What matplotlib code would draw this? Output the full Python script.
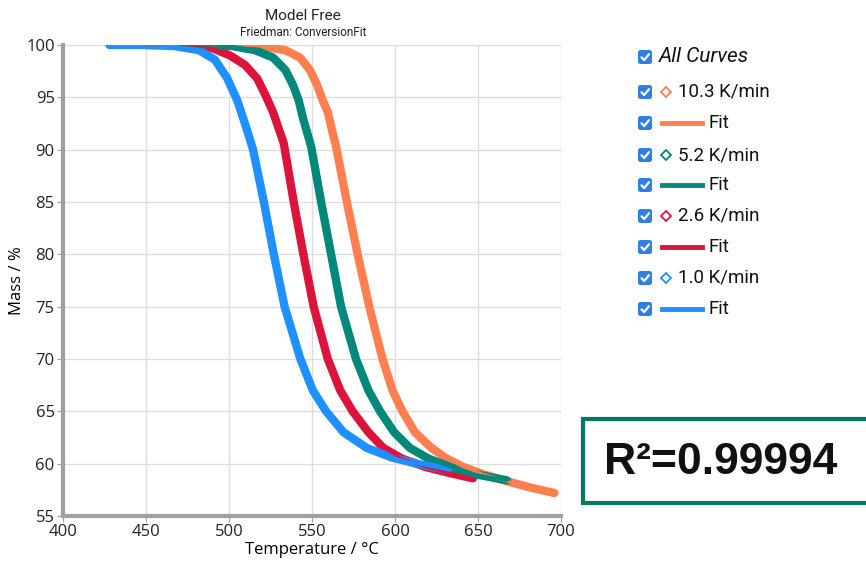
import matplotlib
matplotlib.use("Agg")
import matplotlib.pyplot as plt
from matplotlib.patches import FancyBboxPatch, Rectangle

# data (temperature in degC, mass in %)
t_10 = [470, 505, 518.7, 534, 542.8, 548.8, 553, 556.5, 559.5, 562, 564.5, 571, 577.5, 584.5,
        592.5, 598.5, 604.5, 612, 622, 631, 641, 653, 668, 682, 696]
m_10 = [100, 100, 99.9, 99.5, 98.8, 97.6, 96.2, 94.7, 93.6, 91.9, 90.3, 85, 80, 75,
        70, 67, 65, 63, 61.5, 60.5, 59.7, 59.0, 58.3, 57.7, 57.2]
t_5 = [460, 490, 502, 515.7, 526.5, 534, 538.5, 542, 544.6, 549.5, 555.5, 561.5, 567.5,
       576.5, 584, 591, 599.5, 609, 620, 633, 648, 667.5]
m_5 = [100, 100, 99.9, 99.5, 98.8, 97.6, 96.2, 94.7, 93.0, 90.3, 85, 80, 75,
       70, 67, 65, 63, 61.5, 60.5, 59.7, 59.0, 58.4]
t_2 = [450, 475, 490, 500.6, 509.6, 517, 522, 526.5, 533, 539, 544.8, 551, 559.5,
       567, 574.5, 584, 593, 604, 618, 633, 647]
m_2 = [100, 100, 99.7, 99.0, 98.1, 96.8, 95.2, 93.6, 90.6, 85, 80, 75, 70,
       67, 65, 63, 61.5, 60.5, 59.7, 59.1, 58.6]
t_1 = [428, 450, 467, 482, 491.5, 499, 505, 510, 514.5, 521, 527, 533.5, 543, 550.5,
       558.5, 569, 583, 598, 613, 632]
m_1 = [100, 100, 99.9, 99.5, 98.6, 96.8, 94.7, 92.3, 90, 85, 80, 75, 70, 67,
       65, 63, 61.5, 60.6, 60.0, 59.4]

rates = ["10.3 K/min", "5.2 K/min", "2.6 K/min", "1.0 K/min"]
colors = ["#FF7F50", "#00897B", "#DC143C", "#1E90FF"]
series = [(t_10, m_10), (t_2, m_2), (t_5, m_5), (t_1, m_1)]
series_colors = [colors[0], colors[2], colors[1], colors[3]]
r2 = "0.99994"

fig = plt.figure(figsize=(8.66, 5.70), dpi=100)
ax = fig.add_axes([63 / 866, 1 - 516 / 570, 498 / 866, 471 / 570])

for (t, m), c in zip(series, series_colors):
    ax.plot(t, m, color=c, lw=6, solid_capstyle="round", solid_joinstyle="round", zorder=2)
    ax.plot(t, m, color=c, lw=2, zorder=3)

ax.set_xlim(400, 700)
ax.set_ylim(55, 100)
ax.set_xticks(range(400, 701, 50))
ax.set_yticks(range(55, 101, 5))
ax.grid(True, color="#DDDDDD", lw=1)
ax.set_axisbelow(True)
for s in ["top", "right"]:
    ax.spines[s].set_visible(False)
for s in ["left", "bottom"]:
    ax.spines[s].set_color("#A0A0A0")
    ax.spines[s].set_linewidth(3)
ax.tick_params(colors="#A0A0A0", labelcolor="#222222", labelsize=12, length=4, pad=2)
for lab in ax.get_xticklabels() + ax.get_yticklabels():
    lab.set_family("Open Sans")
ax.set_xlabel("Temperature / °C", fontsize=12, family="Open Sans", labelpad=1)
ax.set_ylabel("Mass / %", fontsize=12, family="Open Sans", labelpad=1)

fig.text(303 / 866, 1 - 16 / 570, "Model Free", ha="center", va="center",
         fontsize=11, family="Roboto", color="#222222")
fig.text(303 / 866, 1 - 32 / 570, "Friedman: ConversionFit", ha="center", va="center",
         fontsize=8.5, family="Roboto", color="#222222")

# overlay in pixel coordinates for legend and R2 box
ov = fig.add_axes([0, 0, 1, 1], zorder=5)
ov.set_xlim(0, 866)
ov.set_ylim(570, 0)
ov.axis("off")
ov.patch.set_alpha(0)


def checkbox(x, y):
    ov.add_patch(FancyBboxPatch((x - 6, y - 6), 12, 12,
                                boxstyle="round,pad=1,rounding_size=2.5",
                                fc="#2F7FE5", ec="none"))
    ov.plot([x - 3.5, x - 0.8, x + 4], [y + 0.3, y + 3, y - 2.8], color="white",
            lw=1.6, solid_capstyle="round", solid_joinstyle="round")


cb_x = 645
checkbox(cb_x, 57)
ov.text(659, 57, "All Curves", va="center", ha="left", fontsize=15,
        style="italic", family="Roboto", color="#111111")
rows = [92, 123, 155, 185, 216, 247, 278, 309]
for i, (lab, c) in enumerate(zip(rates, colors)):
    yd, yf = rows[2 * i], rows[2 * i + 1]
    checkbox(cb_x, yd)
    ov.plot([666], [yd], marker="D", ms=5, mfc="white", mec=c, mew=1.3)
    ov.text(678, yd, lab, va="center", ha="left", fontsize=13.5,
            family="Roboto", color="#111111")
    checkbox(cb_x, yf)
    ov.plot([662, 702], [yf, yf], color=c, lw=3.5)
    ov.text(708, yf, "Fit", va="center", ha="left", fontsize=13.5,
            family="Roboto", color="#111111")

ov.add_patch(Rectangle((583, 419), 300, 84, fc="white", ec="#00796B", lw=3, zorder=4))
ov.text(604, 462, "R²=" + r2, va="center", ha="left", fontsize=32,
        weight="bold", family="Liberation Sans", color="#111111", zorder=5)

fig.savefig("out.png", dpi=100)
